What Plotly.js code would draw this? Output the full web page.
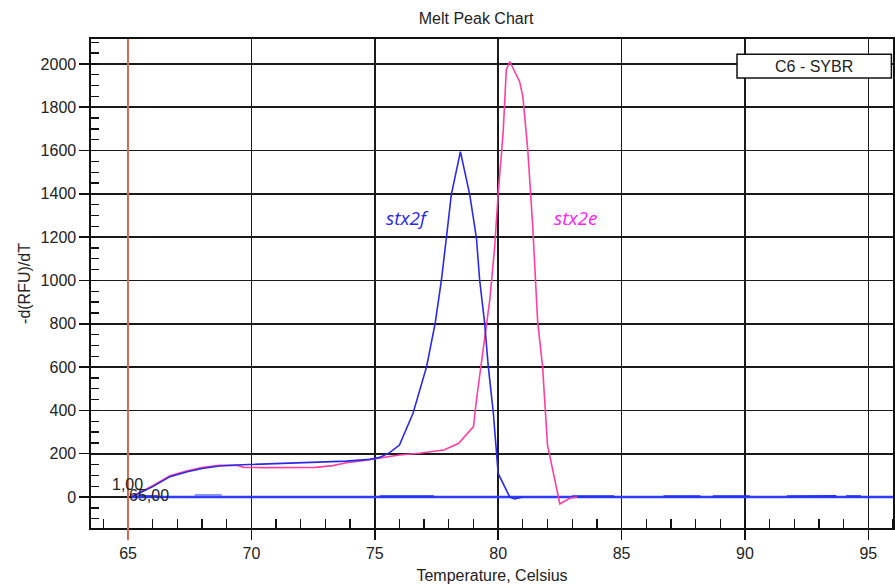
<!DOCTYPE html>
<html>
<head>
<meta charset="utf-8">
<script src="https://cdn.plot.ly/plotly-3.0.1.min.js"></script>
<style>html,body{margin:0;padding:0;background:#fff;}#chart{width:895px;height:588px;}</style>
</head>
<body>
<div id="chart"></div>
<script>
// stx2f melt peak (blue)
const tempStx2f = [65.15, 66.0, 66.7, 67.4, 68.0, 68.7, 69.4, 70.1, 71.2, 72.5, 73.85, 74.8, 75.2, 75.6, 76.0, 76.55, 77.1, 77.45, 77.7, 77.9, 78.1, 78.47, 78.85, 79.12, 79.25, 79.45, 79.6, 79.8, 79.93, 80.0, 80.47, 80.67, 81.0];
const rfuStx2f  = [0, 48, 94, 117, 132, 143, 148, 151, 155, 160, 166, 174, 183, 205, 240, 387, 602, 804, 1002, 1195, 1395, 1595, 1395, 1195, 1002, 804, 602, 394, 202, 109, 0, -9, 0];
// stx2e melt peak (pink)
const tempStx2e = [65.15, 66.0, 66.7, 67.4, 68.0, 68.7, 69.4, 69.7, 70.5, 71.5, 72.6, 73.3, 73.85, 74.5, 75.2, 76.0, 76.8, 77.8, 78.4, 79.0, 79.12, 79.3, 79.5, 79.66, 79.86, 80.0, 80.2, 80.33, 80.47, 80.87, 81.0, 81.2, 81.4, 81.6, 81.8, 82.0, 82.5, 82.9, 83.2];
const rfuStx2e  = [3, 52, 98, 121, 136, 146, 147, 137, 136, 136, 137, 145, 158, 168, 179, 194, 202, 217, 248, 325, 448, 602, 756, 910, 1156, 1403, 1680, 1972, 2011, 1918, 1849, 1603, 1250, 810, 602, 240, -32, -6, 0];
// near-zero baseline wells
const tempBase = [65.15, 96.0];
const rfuBase  = [0, 0];
const tempNoise = [65.4, 66.2, 66.3, 75.2, 77.4, 77.5, 83.0, 84.7, 84.8, 86.7, 88.2, 88.3, 88.7, 90.2, 90.3, 91.7, 93.7, 93.8, 94.1, 94.7];
const rfuNoise  = [4, 4, null, 4, 4, null, 4, 4, null, 4, 4, null, 4, 4, null, 4, 5, null, 4, 4];
const tempLight = [67.7, 68.8];
const rfuLight  = [9, 9];
const xTickVals = [65, 70, 75, 80, 85, 90, 95];
const yTickVals = [0, 200, 400, 600, 800, 1000, 1200, 1400, 1600, 1800, 2000];

const traces = [
  {x: tempBase, y: rfuBase, mode: 'lines', line: {color: '#2f3cff', width: 2.5}, hoverinfo: 'skip'},
  {x: tempNoise, y: rfuNoise, mode: 'lines', line: {color: '#2233ee', width: 2}, connectgaps: false, hoverinfo: 'skip'},
  {x: tempLight, y: rfuLight, mode: 'lines', line: {color: '#7f8cff', width: 2}, hoverinfo: 'skip'},
  {x: tempStx2e, y: rfuStx2e, mode: 'lines', name: 'stx2e', line: {color: '#ff3fa0', width: 1.6}},
  {x: tempStx2f, y: rfuStx2f, mode: 'lines', name: 'stx2f', line: {color: '#2a2ae6', width: 1.6}}
];

const font = {family: 'Liberation Sans, Arial, sans-serif', size: 16, color: '#222'};

const layout = {
  width: 895, height: 588,
  margin: {l: 91, r: 2, t: 39, b: 60},
  paper_bgcolor: '#fff', plot_bgcolor: '#fff',
  showlegend: false,
  font: font,
  title: {text: 'Melt Peak Chart', font: {family: font.family, size: 16, color: '#222'}, x: 0.532, xanchor: 'center', y: 0.969, yanchor: 'middle'},
  xaxis: {
    range: [63.5, 96.0], tickvals: xTickVals, ticktext: xTickVals.map(String),
    ticks: 'outside', ticklen: 10, tickwidth: 1.5, tickcolor: '#111',
    showgrid: true, gridcolor: '#1a1a1a', gridwidth: 1.6,
    showline: true, linecolor: '#111', linewidth: 1.6, mirror: true,
    zeroline: false,
    minor: {dtick: 1, tick0: 65, ticks: 'inside', ticklen: 9, tickwidth: 1.3, tickcolor: '#111', showgrid: false},
    tickfont: {family: font.family, size: 16, color: '#222'},
    title: {text: 'Temperature, Celsius', font: {family: font.family, size: 16, color: '#222'}, standoff: 9}
  },
  yaxis: {
    range: [-143, 2115], tickvals: yTickVals, ticktext: yTickVals.map(String),
    ticks: 'outside', ticklen: 10, tickwidth: 1.5, tickcolor: '#111',
    showgrid: true, gridcolor: '#1a1a1a', gridwidth: 1.6,
    showline: true, linecolor: '#111', linewidth: 1.6, mirror: true,
    zeroline: false,
    minor: {dtick: 50, tick0: 0, ticks: 'inside', ticklen: 8, tickwidth: 1.3, tickcolor: '#111', showgrid: false},
    tickfont: {family: font.family, size: 16, color: '#222'},
    title: {text: '-d(RFU)/dT', font: {family: font.family, size: 16, color: '#222'}, standoff: 6}
  },
  shapes: [
    {type: 'line', xref: 'x', yref: 'paper', x0: 65, x1: 65, y0: -0.025, y1: 1, line: {color: '#ff8466', width: 1.6}},
    {type: 'rect', xref: 'paper', yref: 'paper', x0: 0.8055, x1: 0.998, y0: 0.920, y1: 0.969, fillcolor: '#fff', line: {color: '#111', width: 1.5}, layer: 'above'}
  ],
  annotations: [
    {xref: 'paper', yref: 'paper', x: 0.902, y: 0.9445, text: 'C6 - SYBR', showarrow: false, xanchor: 'center', yanchor: 'middle', font: {family: font.family, size: 16, color: '#222'}},
    {xref: 'x', yref: 'y', x: 76.33, y: 1290, text: '<i>stx2f</i>', showarrow: false, xanchor: 'center', yanchor: 'middle', font: {family: 'Open Sans, sans-serif', size: 19, color: '#2a2ae6'}},
    {xref: 'x', yref: 'y', x: 83.16, y: 1290, text: '<i>stx2e</i>', showarrow: false, xanchor: 'center', yanchor: 'middle', font: {family: 'Open Sans, sans-serif', size: 19, color: '#ff22ee'}},
    {xref: 'x', yref: 'y', x: 64.96, y: 60, text: '1,00', showarrow: false, xanchor: 'center', yanchor: 'middle', font: {family: font.family, size: 16, color: '#222'}},
    {xref: 'x', yref: 'y', x: 65.85, y: 9, text: '65,00', showarrow: false, xanchor: 'center', yanchor: 'middle', font: {family: font.family, size: 16, color: '#222'}}
  ]
};

Plotly.newPlot('chart', traces, layout, {displayModeBar: false, staticPlot: true});
</script>
</body>
</html>
